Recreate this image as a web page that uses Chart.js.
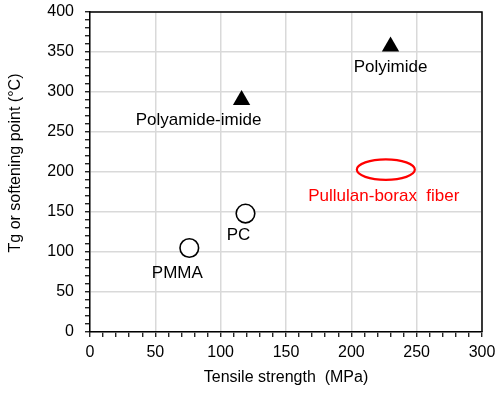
<!DOCTYPE html>
<html>
<head>
<meta charset="utf-8">
<script src="https://cdn.jsdelivr.net/npm/chart.js@4.4.0/dist/chart.umd.min.js"></script>
<style>
  html, body { margin: 0; padding: 0; background: #fff; }
</style>
</head>
<body>
<canvas id="chart" width="500" height="394"></canvas>
<script>
// reference polymers: tensile strength (MPa) vs Tg / softening point (°C)
const triNames = ['Polyimide', 'Polyamide-imide'];
const triStrength = [230, 116];
const triTg = [357, 290];

const circNames = ['PC', 'PMMA'];
const circStrength = [119, 76];
const circTg = [148, 105];

// pullulan-borax fiber range: min, centre, max
const fiberName = 'Pullulan-borax  fiber';
const fiberStrength = [204.2, 226.4, 248.6];
const fiberTg = [190.2, 203, 215.8];

const xTickLabels = [0, 50, 100, 150, 200, 250, 300];
const yTickLabels = [0, 50, 100, 150, 200, 250, 300, 350, 400];

const FONT = '"Liberation Sans", Arial, sans-serif';

// label placement relative to its marker (px)
const labelOffsets = {
  'Polyimide': [0, 26],
  'Polyamide-imide': [-43, 25],
  'PC': [-7, 26.5],
  'PMMA': [-12, 30]
};

const annotate = {
  id: 'annotate',
  afterDatasetsDraw(chart) {
    const { ctx, chartArea: a } = chart;
    const xs = chart.scales.x, ys = chart.scales.y;
    ctx.save();

    // top + right frame
    ctx.strokeStyle = '#000';
    ctx.lineWidth = 1.5;
    ctx.beginPath();
    ctx.moveTo(a.left, a.top);
    ctx.lineTo(a.right, a.top);
    ctx.lineTo(a.right, a.bottom);
    ctx.stroke();

    // fiber ellipse
    const cx = xs.getPixelForValue(fiberStrength[1]);
    const cy = ys.getPixelForValue(fiberTg[1]);
    const rx = (xs.getPixelForValue(fiberStrength[2]) - xs.getPixelForValue(fiberStrength[0])) / 2;
    const ry = (ys.getPixelForValue(fiberTg[0]) - ys.getPixelForValue(fiberTg[2])) / 2;
    ctx.strokeStyle = '#ff0000';
    ctx.lineWidth = 2.2;
    ctx.beginPath();
    ctx.ellipse(cx, cy, rx, ry, 0, 0, Math.PI * 2);
    ctx.stroke();

    // point labels
    ctx.font = '17px ' + FONT;
    ctx.textAlign = 'center';
    ctx.textBaseline = 'alphabetic';
    ctx.fillStyle = '#000';
    chart.data.datasets.forEach((ds, di) => {
      chart.getDatasetMeta(di).data.forEach((pt, i) => {
        const name = ds.names[i];
        const off = labelOffsets[name];
        ctx.fillText(name, pt.x + off[0], pt.y + off[1]);
      });
    });
    ctx.fillStyle = '#ff0000';
    ctx.fillText(fiberName, cx - 2, cy + 31.5);

    // y axis title
    ctx.fillStyle = '#000';
    ctx.font = '16px ' + FONT;
    ctx.translate(20, 163);
    ctx.rotate(-Math.PI / 2);
    ctx.fillText('Tg or softening point (°C)', 0, 0);
    ctx.restore();
  }
};

const gridColor = ctx => (ctx.tick && ctx.tick.value % 50 === 0) ? '#d9d9d9' : 'rgba(0,0,0,0)';

new Chart(document.getElementById('chart'), {
  type: 'scatter',
  data: {
    datasets: [
      {
        names: triNames,
        data: triStrength.map((v, i) => ({ x: v, y: triTg[i] })),
        pointStyle: 'triangle',
        pointRadius: 10,
        backgroundColor: '#000',
        borderColor: '#000',
        borderWidth: 0
      },
      {
        names: circNames,
        data: circStrength.map((v, i) => ({ x: v, y: circTg[i] })),
        pointStyle: 'circle',
        pointRadius: 9.3,
        backgroundColor: '#fff',
        borderColor: '#000',
        borderWidth: 1.6
      }
    ]
  },
  options: {
    responsive: false,
    animation: false,
    devicePixelRatio: 1,
    layout: { padding: { top: 12, right: 18, left: 0, bottom: 0 } },
    plugins: { legend: { display: false }, tooltip: { enabled: false } },
    scales: {
      x: {
        type: 'linear',
        min: 0,
        max: 300,
        afterFit: s => { s.height = 62; s.paddingLeft = 0; s.paddingRight = 0; },
        border: { color: '#000', width: 1.5 },
        grid: { color: gridColor, lineWidth: 1.5, tickColor: '#000', tickLength: 5, tickWidth: 1.2 },
        ticks: {
          stepSize: 10,
          autoSkip: false,
          maxRotation: 0,
          padding: 6,
          color: '#000',
          font: { size: 16, family: FONT },
          callback: v => xTickLabels.includes(v) ? String(v) : ''
        },
        title: {
          display: true,
          text: 'Tensile strength  (MPa)',
          color: '#000',
          font: { size: 16, family: FONT },
          padding: { top: 0, bottom: 7 }
        }
      },
      y: {
        type: 'linear',
        min: 0,
        max: 400,
        afterFit: s => { s.width = 90; s.paddingTop = 0; s.paddingBottom = 0; },
        border: { color: '#000', width: 1.5 },
        grid: { color: gridColor, lineWidth: 1.5, tickColor: '#000', tickLength: 5, tickWidth: 1.2 },
        ticks: {
          stepSize: 10,
          autoSkip: false,
          padding: 11,
          color: '#000',
          font: { size: 16, family: FONT },
          callback: v => yTickLabels.includes(v) ? String(v) : ''
        }
      }
    }
  },
  plugins: [annotate]
});
</script>
</body>
</html>
